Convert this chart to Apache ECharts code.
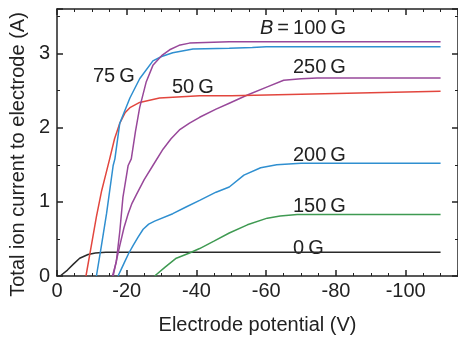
<!DOCTYPE html>
<html>
<head>
<meta charset="utf-8">
<script src="https://cdn.jsdelivr.net/npm/echarts@6/dist/echarts.min.js"></script>
<style>
  html, body { margin: 0; padding: 0; background: #fff; }
  #chart { width: 458px; height: 340px; }
</style>
</head>
<body>
<div id="chart"></div>
<script>
  // electrode potential (V) and total ion current (A)
  const v0 = [-0.9, -3, -4.7, -6.5, -8.9, -11, -14, -110]
  const i0 = [0, 0.08, 0.16, 0.24, 0.29, 0.31, 0.32, 0.32]

  const v50 = [-8.3, -9.8, -11.3, -12.8, -14.2, -15.1, -16.5, -18, -19.5, -20.9, -23.7, -29.4, -40.9, -50, -110]
  const i50 = [0, 0.4, 0.8, 1.15, 1.41, 1.58, 1.85, 2.06, 2.2, 2.27, 2.34, 2.40, 2.43, 2.43, 2.49]

  const v75 = [-11.3, -12.7, -14.2, -16.1, -16.6, -18, -20.9, -23.7, -27.5, -30, -33.2, -39, -49.4, -56, -60, -110]
  const i75 = [0, 0.4, 0.84, 1.49, 1.58, 2.06, 2.40, 2.66, 2.90, 2.96, 3.01, 3.06, 3.07, 3.08, 3.09, 3.09]

  const v100 = [-15.9, -17, -18, -18.9, -20.4, -21.3, -22.5, -23.7, -25.6, -27.5, -30, -32.3, -35, -38, -49.4, -110]
  const i100 = [0, 0.19, 0.6, 1.06, 1.49, 1.58, 1.95, 2.27, 2.62, 2.84, 2.97, 3.05, 3.11, 3.14, 3.16, 3.16]

  const v150 = [-28, -31, -34.2, -38, -40.9, -45, -49.4, -54.6, -60.3, -64, -68.9, -110]
  const i150 = [0, 0.12, 0.24, 0.31, 0.37, 0.47, 0.58, 0.69, 0.78, 0.81, 0.83, 0.83]

  const v200 = [-17.5, -18.5, -19.4, -20.5, -21.8, -23.2, -24.7, -26.3, -28, -33.2, -37, -40.9, -45.6, -49.4, -53.6, -58.4, -63, -70, -110]
  const i200 = [0, 0.1, 0.19, 0.3, 0.41, 0.52, 0.63, 0.7, 0.74, 0.84, 0.93, 1.02, 1.13, 1.2, 1.36, 1.46, 1.50, 1.52, 1.52]

  const v250 = [-16.1, -17, -18, -19.2, -20.4, -21.5, -22.8, -25, -27.5, -30.4, -32.7, -35.1, -38, -40.9, -45.6, -49.4, -54.6, -60.3, -65, -70, -74.6, -110]
  const i250 = [0, 0.2, 0.41, 0.65, 0.84, 0.98, 1.10, 1.3, 1.49, 1.71, 1.85, 1.97, 2.06, 2.14, 2.25, 2.33, 2.44, 2.55, 2.64, 2.66, 2.67, 2.67]

  const xTicks = [0, -20, -40, -60, -80, -100]
  const yTicks = [0, 1, 2, 3]

  const font = '"Liberation Sans", Arial, sans-serif'
  const axisColor = '#222'

  // the axis runs on |V| so 0 sits on the left, labels carry the minus sign
  function pts(v, i) {
    return v.map((x, k) => [-x, i[k]])
  }

  function line(name, v, i, color) {
    return {
      name: name,
      type: 'line',
      data: pts(v, i),
      showSymbol: false,
      symbol: 'none',
      smooth: false,
      lineStyle: { color: color, width: 1.5 },
      z: 3
    }
  }

  const baseX = {
    type: 'value',
    min: 0,
    max: 115,
    interval: 20,
    axisLine: { show: true, onZero: false, lineStyle: { color: axisColor, width: 1.5 } },
    axisTick: { show: true, inside: true, length: 6, lineStyle: { color: axisColor, width: 1.5 } },
    minorTick: { show: true, splitNumber: 4, length: 3, lineStyle: { color: axisColor, width: 1 } },
    splitLine: { show: false }
  }
  const baseY = {
    type: 'value',
    min: 0,
    max: 3.6,
    interval: 1,
    axisLine: { show: true, onZero: false, lineStyle: { color: axisColor, width: 1.5 } },
    axisTick: { show: true, inside: true, length: 6, lineStyle: { color: axisColor, width: 1.5 } },
    minorTick: { show: true, splitNumber: 2, length: 3, lineStyle: { color: axisColor, width: 1 } },
    splitLine: { show: false }
  }

  const option = {
    animation: false,
    backgroundColor: '#fff',
    grid: { left: 57, right: -1, top: 9, bottom: 55 },
    xAxis: [
      Object.assign({}, baseX, {
        position: 'bottom',
        name: 'Electrode potential (V)',
        nameLocation: 'middle',
        nameGap: 39,
        nameTextStyle: { fontFamily: font, fontSize: 20, color: axisColor },
        axisLabel: {
          fontFamily: font, fontSize: 20, color: axisColor, margin: 5,
          showMaxLabel: false,
          formatter: v => (xTicks.indexOf(-v) >= 0 ? (v === 0 ? '0' : '-' + v) : '')
        }
      }),
      Object.assign({}, baseX, { position: 'top', axisLabel: { show: false } })
    ],
    yAxis: [
      Object.assign({}, baseY, {
        position: 'left',
        name: 'Total ion current to electrode (A)',
        nameLocation: 'middle',
        nameGap: 28,
        nameTextStyle: { fontFamily: font, fontSize: 20, color: axisColor, padding: [0, 24, 0, 0] },
        axisLabel: {
          fontFamily: font, fontSize: 20, color: axisColor, margin: 7,
          showMaxLabel: false,
          formatter: v => (yTicks.indexOf(v) >= 0 ? String(v) : '')
        }
      }),
      Object.assign({}, baseY, { position: 'right', axisLabel: { show: false } })
    ],
    series: [
      line('0 G', v0, i0, '#2a2a2a'),
      line('150 G', v150, i150, '#3f9a52'),
      line('200 G', v200, i200, '#2f8fd0'),
      line('250 G', v250, i250, '#98489a'),
      line('50 G', v50, i50, '#e2463e'),
      line('75 G', v75, i75, '#2f8fd0'),
      line('100 G', v100, i100, '#98489a')
    ],
    graphic: [
      { type: 'text', left: 260, top: 18, style: {
        text: '{i|B}\u2009=\u2009100\u2009G', fontFamily: font, fontSize: 20, fill: axisColor,
        rich: { i: { fontStyle: 'italic', fontFamily: font, fontSize: 20, fill: axisColor } } } },
      { type: 'text', left: 293, top: 57, style: { text: '250\u2009G', fontFamily: font, fontSize: 20, fill: axisColor } },
      { type: 'text', left: 293, top: 145, style: { text: '200\u2009G', fontFamily: font, fontSize: 20, fill: axisColor } },
      { type: 'text', left: 293, top: 196, style: { text: '150\u2009G', fontFamily: font, fontSize: 20, fill: axisColor } },
      { type: 'text', left: 293, top: 238, style: { text: '0\u2009G', fontFamily: font, fontSize: 20, fill: axisColor } },
      { type: 'text', left: 93, top: 66, style: { text: '75\u2009G', fontFamily: font, fontSize: 20, fill: axisColor } },
      { type: 'text', left: 172, top: 77, style: { text: '50\u2009G', fontFamily: font, fontSize: 20, fill: axisColor } }
    ]
  }

  const chart = echarts.init(document.getElementById('chart'), null, { renderer: 'canvas' })
  chart.setOption(option)
  window.addEventListener('resize', () => chart.resize())
</script>
</body>
</html>
